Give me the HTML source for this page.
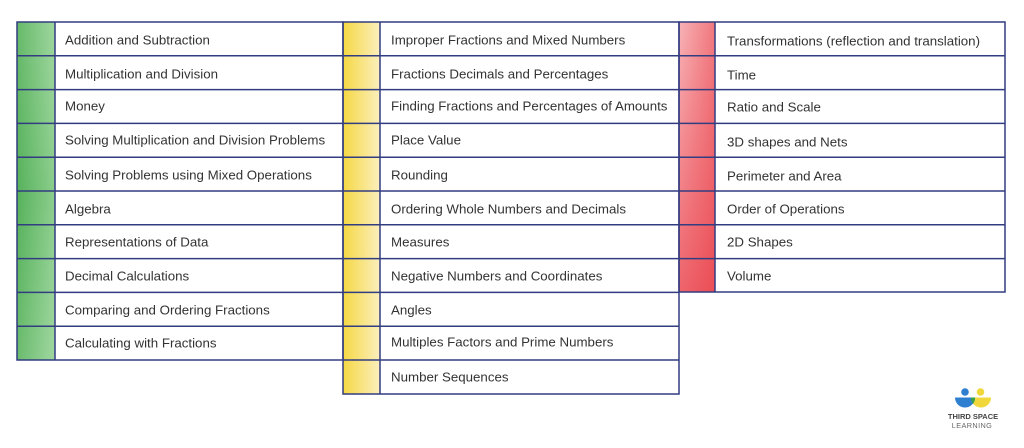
<!DOCTYPE html>
<html><head><meta charset="utf-8"><style>
html,body{margin:0;padding:0;background:#fff;}
svg{display:block;}
text{font-family:"Liberation Sans",sans-serif;font-size:13.3px;fill:#333;}
</style></head><body>
<svg width="1024" height="448" viewBox="0 0 1024 448" xmlns="http://www.w3.org/2000/svg">
<defs>
<linearGradient id="gh" x1="0" x2="1" y1="0" y2="0"><stop offset="0" stop-color="#5ab45e"/><stop offset="1" stop-color="#96d396"/></linearGradient>
<linearGradient id="gv" x1="0" x2="0" y1="0" y2="1"><stop offset="0" stop-color="#fff" stop-opacity="0.08"/><stop offset="0.5" stop-color="#2e9a3a" stop-opacity="0.1"/><stop offset="1" stop-color="#fff" stop-opacity="0.1"/></linearGradient>
<linearGradient id="yh" x1="0" x2="1" y1="0" y2="0"><stop offset="0" stop-color="#f5d844"/><stop offset="1" stop-color="#fbefbd"/></linearGradient>
<linearGradient id="rh" x1="0" x2="1" y1="0" y2="0"><stop offset="0" stop-color="#f7b3b7"/><stop offset="1" stop-color="#f0787e"/></linearGradient>
<linearGradient id="rv" x1="0" x2="0" y1="0" y2="1"><stop offset="0" stop-color="#e8303a" stop-opacity="0"/><stop offset="1" stop-color="#e8303a" stop-opacity="0.6"/></linearGradient>
</defs>
<rect x="17" y="22" width="38" height="338" fill="url(#gh)"/>
<rect x="17" y="22" width="38" height="338" fill="url(#gv)"/>
<rect x="343" y="22" width="37" height="372" fill="url(#yh)"/>
<rect x="679" y="22" width="36" height="270" fill="url(#rh)"/>
<rect x="679" y="22" width="36" height="270" fill="url(#rv)"/>

<g stroke="#323c80" stroke-width="1.5" fill="none">
<rect x="17" y="22" width="326" height="338"/>
<line x1="55" y1="22" x2="55" y2="360"/>
<line x1="17" y1="55.8" x2="343" y2="55.8"/>
<line x1="17" y1="89.6" x2="343" y2="89.6"/>
<line x1="17" y1="123.4" x2="343" y2="123.4"/>
<line x1="17" y1="157.2" x2="343" y2="157.2"/>
<line x1="17" y1="191" x2="343" y2="191"/>
<line x1="17" y1="224.8" x2="343" y2="224.8"/>
<line x1="17" y1="258.6" x2="343" y2="258.6"/>
<line x1="17" y1="292.4" x2="343" y2="292.4"/>
<line x1="17" y1="326.2" x2="343" y2="326.2"/>
<rect x="343" y="22" width="336" height="372"/>
<line x1="380" y1="22" x2="380" y2="394"/>
<line x1="343" y1="55.8" x2="679" y2="55.8"/>
<line x1="343" y1="89.6" x2="679" y2="89.6"/>
<line x1="343" y1="123.4" x2="679" y2="123.4"/>
<line x1="343" y1="157.2" x2="679" y2="157.2"/>
<line x1="343" y1="191" x2="679" y2="191"/>
<line x1="343" y1="224.8" x2="679" y2="224.8"/>
<line x1="343" y1="258.6" x2="679" y2="258.6"/>
<line x1="343" y1="292.4" x2="679" y2="292.4"/>
<line x1="343" y1="326.2" x2="679" y2="326.2"/>
<line x1="343" y1="360" x2="679" y2="360"/>
<rect x="679" y="22" width="326" height="270"/>
<line x1="715" y1="22" x2="715" y2="292"/>
<line x1="679" y1="55.8" x2="1005" y2="55.8"/>
<line x1="679" y1="89.6" x2="1005" y2="89.6"/>
<line x1="679" y1="123.4" x2="1005" y2="123.4"/>
<line x1="679" y1="157.2" x2="1005" y2="157.2"/>
<line x1="679" y1="191" x2="1005" y2="191"/>
<line x1="679" y1="224.8" x2="1005" y2="224.8"/>
<line x1="679" y1="258.6" x2="1005" y2="258.6"/>
</g>

<g dominant-baseline="central">
<text x="65" y="40">Addition and Subtraction</text>
<text x="65" y="74">Multiplication and Division</text>
<text x="65" y="106">Money</text>
<text x="65" y="140">Solving Multiplication and Division Problems</text>
<text x="65" y="175">Solving Problems using Mixed Operations</text>
<text x="65" y="209">Algebra</text>
<text x="65" y="242">Representations of Data</text>
<text x="65" y="276">Decimal Calculations</text>
<text x="65" y="310">Comparing and Ordering Fractions</text>
<text x="65" y="343">Calculating with Fractions</text>

<text x="391" y="40">Improper Fractions and Mixed Numbers</text>
<text x="391" y="74">Fractions Decimals and Percentages</text>
<text x="391" y="106">Finding Fractions and Percentages of Amounts</text>
<text x="391" y="140">Place Value</text>
<text x="391" y="175">Rounding</text>
<text x="391" y="209">Ordering Whole Numbers and Decimals</text>
<text x="391" y="242">Measures</text>
<text x="391" y="276">Negative Numbers and Coordinates</text>
<text x="391" y="310">Angles</text>
<text x="391" y="342">Multiples Factors and Prime Numbers</text>
<text x="391" y="377">Number Sequences</text>

<text x="727" y="41">Transformations (reflection and translation)</text>
<text x="727" y="75">Time</text>
<text x="727" y="107">Ratio and Scale</text>
<text x="727" y="142">3D shapes and Nets</text>
<text x="727" y="176">Perimeter and Area</text>
<text x="727" y="209">Order of Operations</text>
<text x="727" y="242">2D Shapes</text>
<text x="727" y="276">Volume</text>
</g>

<circle cx="965" cy="392" r="3.8" fill="#2f7fd0"/>
<circle cx="980.5" cy="392" r="3.8" fill="#f0d83c"/>
<path d="M971 397.5 A10 10 0 0 0 991 397.5 Z" fill="#f0d83c"/>
<path d="M955 397.5 A10 10 0 0 0 975 397.5 Z" fill="#2f7fd0"/>
<path d="M971 397.5 L975 397.5 A10 10 0 0 1 973 404 A10 10 0 0 1 971 397.5 Z" fill="#3aa04a"/>
<text x="973" y="419" text-anchor="middle" style="font-size:7.5px;font-weight:bold;fill:#444;">THIRD SPACE</text>
<text x="972" y="428" text-anchor="middle" style="font-size:7.3px;fill:#666;letter-spacing:0.4px;">LEARNING</text>
</svg>
</body></html>
